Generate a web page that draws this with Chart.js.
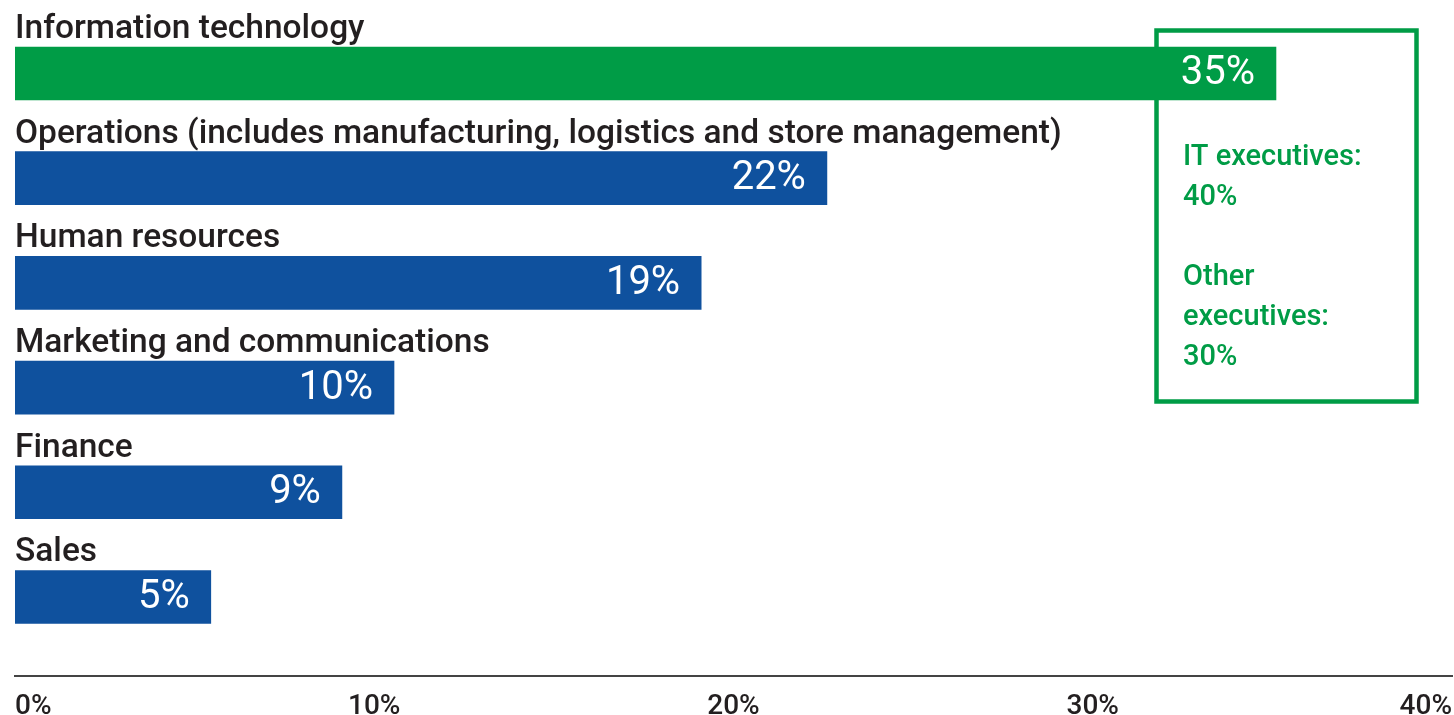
<!DOCTYPE html>
<html>
<head>
<meta charset="utf-8">
<script src="https://cdn.jsdelivr.net/npm/chart.js@4"></script>
<style>
  html, body { margin: 0; padding: 0; background: #fff; overflow: hidden; }
  #wrap { width: 1454px; height: 715px; position: relative; }
  canvas { display: block; }
</style>
</head>
<body>
<div id="wrap"><canvas id="chart"></canvas></div>
<script>
// Données
const categories = [
    "Information technology",
    "Operations (includes manufacturing, logistics and store management)",
    "Human resources",
    "Marketing and communications",
    "Finance",
    "Sales"
];
const barValues = [35.1, 22.6, 19.1, 10.55, 9.1, 5.45];
const valueLabels = ["35%", "22%", "19%", "10%", "9%", "5%"];
const xTicks = [0, 10, 20, 30, 40];
const boxLines = ["IT executives:", "40%", "", "Other", "executives:", "30%"];

const GREEN = "#009c46";
const BLUE = "#0f519e";
const DARK = "#231f20";

// Libellés au-dessus des barres + valeurs dans les barres
const barLabels = {
    id: "barLabels",
    afterDatasetsDraw(chart) {
        const ctx = chart.ctx;
        const meta = chart.getDatasetMeta(0);
        ctx.save();
        meta.data.forEach((bar, i) => {
            const top = bar.y - bar.height / 2;
            ctx.fillStyle = DARK;
            ctx.font = "500 33.5px Roboto";
            ctx.textAlign = "left";
            ctx.textBaseline = "alphabetic";
            ctx.fillText(categories[i], chart.chartArea.left, top - 9);

            ctx.fillStyle = "#fff";
            ctx.font = "400 40px Roboto";
            ctx.textAlign = "right";
            ctx.textBaseline = "middle";
            ctx.fillText(valueLabels[i], bar.x - 21, bar.y + 1);
        });
        ctx.restore();
    }
};

// Encadré vert (derrière la barre IT)
const greenBox = {
    id: "greenBox",
    beforeDatasetsDraw(chart) {
        const ctx = chart.ctx;
        ctx.save();
        ctx.strokeStyle = GREEN;
        ctx.lineWidth = 4.5;
        ctx.strokeRect(1156.5, 30.5, 260, 371);
        ctx.fillStyle = GREEN;
        ctx.font = "500 29px Roboto";
        ctx.textAlign = "left";
        ctx.textBaseline = "alphabetic";
        let y = 165;
        boxLines.forEach(line => {
            if (line) ctx.fillText(line, 1183, y);
            y += 40;
        });
        ctx.restore();
    }
};

new Chart(document.getElementById("chart"), {
    type: "bar",
    data: {
        datasets: [{
            data: categories.map((c, i) => ({ x: barValues[i], y: i })),
            backgroundColor: categories.map((c, i) => i === 0 ? GREEN : BLUE),
            borderWidth: 0,
            barThickness: 53
        }]
    },
    options: {
        indexAxis: "y",
        responsive: true,
        maintainAspectRatio: false,
        animation: false,
        layout: { padding: { left: 15, right: 2, top: 0, bottom: 0 } },
        scales: {
            y: {
                type: "linear",
                reverse: true,
                offset: false,
                min: -0.702,
                max: 5.755,
                display: false
            },
            x: {
                type: "linear",
                min: xTicks[0],
                max: xTicks[xTicks.length - 1],
                afterBuildTicks: scale => {
                    scale.ticks = xTicks.map(v => ({ value: v }));
                },
                afterFit: scale => { scale.height = 39; },
                grid: { display: false, drawTicks: true, tickLength: 15 },
                border: { display: true, color: "#444", width: 2 },
                ticks: {
                    align: "inner",
                    padding: 2,
                    color: DARK,
                    font: { family: "Roboto", size: 28, weight: "500", lineHeight: 1 },
                    callback: v => v + "%"
                }
            }
        },
        plugins: {
            legend: { display: false },
            tooltip: { enabled: false }
        }
    },
    plugins: [greenBox, barLabels]
});
</script>
</body>
</html>
